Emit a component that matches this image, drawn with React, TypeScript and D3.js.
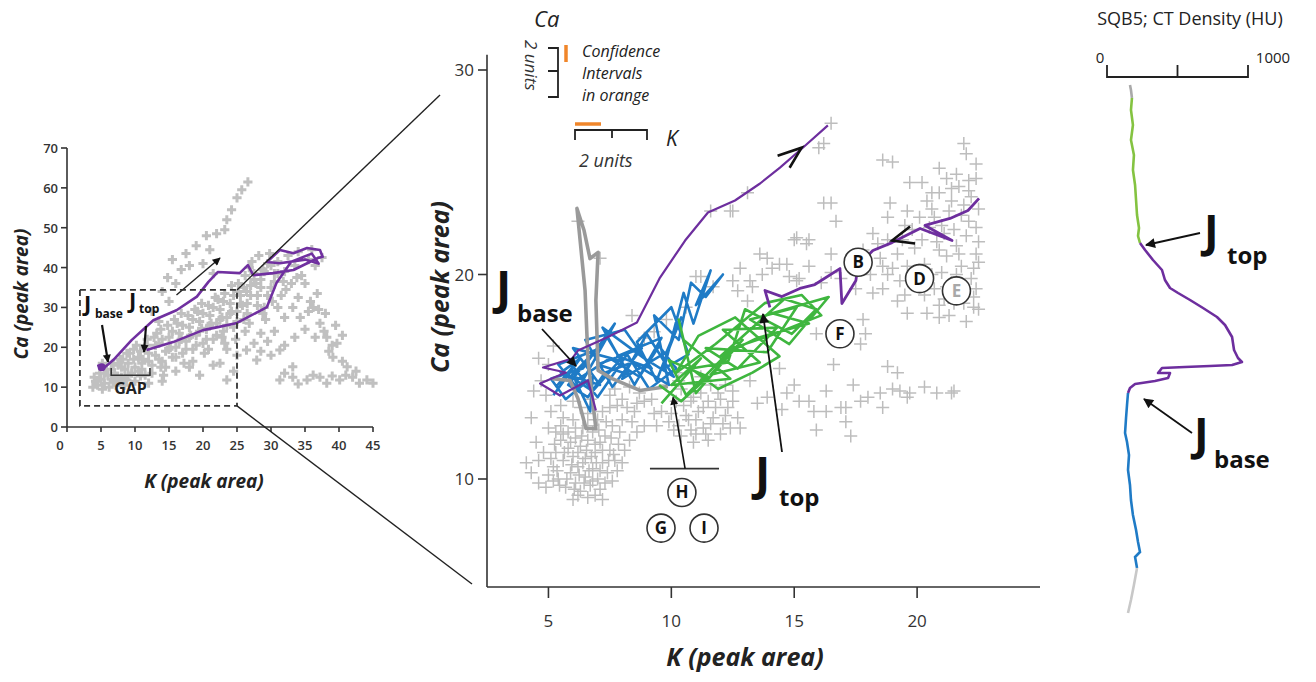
import React from 'react';
import * as d3 from 'd3';

const W = 1316, H = 682;
type P = [number, number];

// ---------- LEFT PANEL (K vs Ca, full range) ----------
const leftXTicks = [0, 5, 10, 15, 20, 25, 30, 35, 40, 45];
const leftYTicks = [0, 10, 20, 30, 40, 50, 60, 70];
const leftGray: P[] = [
  [3.8,10.0],[4.2,11.5],[4.5,10.5],[5.0,12.0],[5.5,11.0],[6.0,13.0],[4.8,13.5],[6.2,10.0],[5.8,14.5],[6.8,11.5],[5.2,9.5],[6.5,12.0],[7.8,11.5],
  [7.0,13.5],[7.5,15.5],[8.0,12.5],[8.5,14.5],[8.2,17.0],[9.0,16.0],[9.5,13.5],[7.2,10.5],[9.2,18.5],[8.8,11.8],[7.4,12.8],
  [10.0,15.0],[10.5,17.5],[11.0,14.5],[11.5,19.5],[12.0,16.5],[10.2,20.5],[12.5,13.5],[11.8,22.0],[10.8,12.8],[11.2,17.0],
  [13.0,18.0],[13.5,21.0],[14.0,16.5],[14.5,19.0],[15.0,22.5],[13.2,23.5],[15.5,17.5],[14.2,13.0],[13.8,15.0],[15.2,20.0],
  [16.0,20.0],[16.5,23.5],[17.0,18.5],[17.5,21.5],[18.0,25.0],[16.2,26.0],[18.5,19.5],[17.2,16.0],[16.8,22.0],[18.2,23.0],
  [19.0,23.0],[19.5,26.5],[20.0,21.0],[20.5,24.5],[21.0,28.0],[19.2,29.0],[21.5,22.0],[20.2,18.5],[19.8,24.8],[21.2,26.0],
  [22.0,26.0],[22.5,29.5],[23.0,24.0],[23.5,27.5],[24.0,31.0],[22.2,32.0],[24.5,25.0],[23.2,21.0],[22.8,27.5],[24.2,29.0],
  [25.0,29.0],[25.5,33.0],[26.0,27.0],[26.5,31.0],[27.0,35.5],[25.2,36.0],[27.5,38.5],[26.2,24.0],[26.8,40.0],[25.8,30.5],[26.4,34.0],
  [28.0,33.0],[28.5,37.0],[29.0,30.0],[29.5,41.0],[28.2,43.0],[30.0,35.0],[30.5,38.5],[29.2,27.0],[27.8,36.0],[28.8,39.5],
  [31.0,41.5],[31.5,33.0],[32.0,39.0],[32.5,43.0],[33.0,36.0],[33.5,40.5],[34.0,44.0],[34.5,38.0],
  [35.5,42.0],[36.5,40.5],[36.0,44.5],[37.5,42.5],[35.0,36.0],
  [14.0,34.0],[15.0,31.5],[16.0,36.0],[14.8,37.5],[16.8,39.5],[15.5,42.0],[17.5,43.5],[19.0,45.5],[21.0,44.5],[20.5,48.0],
  [22.0,48.5],[23.2,49.5],[23.5,52.0],[24.2,54.5],[25.0,57.5],[25.7,59.5],[26.6,61.5],[18.0,40.5],[20.0,41.0],[21.5,38.5],[12.5,29.0],[13.5,26.5],
  [27.5,21.0],[28.5,23.5],[29.5,21.5],[30.5,24.0],[31.0,30.0],[32.0,27.5],[33.2,30.0],[34.3,27.5],[35.5,29.0],[36.2,30.0],
  [37.2,26.0],[37.8,24.0],[38.2,22.5],[39.0,20.5],[39.7,21.0],[39.1,17.5],[38.5,19.0],[36.5,22.5],[35.0,24.5],[33.5,22.5],
  [32.0,20.5],[31.3,19.3],[30.0,18.0],[28.5,19.0],[27.9,16.8],[26.4,19.3],[25.0,18.0],[23.5,19.5],[22.5,16.0],[23.5,11.8],
  [38.0,28.5],[39.5,25.5],[40.5,23.0],[37.0,29.5],[35.8,31.5],[34.0,32.5],[36.8,33.5],
  [31.3,11.8],[32.0,13.5],[33.2,12.5],[34.0,10.8],[35.3,11.8],[36.2,13.0],[37.2,12.5],[38.2,11.0],[39.0,12.8],[40.1,11.8],
  [41.0,13.0],[42.0,12.5],[43.0,11.0],[44.1,11.8],[45.0,11.0],[41.2,15.1],[33.2,15.1],[40.5,16.5],[42.5,14.0],
  [19.5,13.0],[21.5,15.5],[24.5,14.0],[18.0,15.0],
  [5.5,13.5],[6.5,14.5],[7.5,12.0],[8.0,15.0],[9.0,13.0],[9.8,17.0],[10.5,14.0],[11.0,16.0],[11.5,13.0],[12.0,18.5],[12.5,15.5],
  [13.0,20.5],[13.5,17.0],[14.0,22.0],[14.5,15.0],[15.0,19.5],[15.5,24.0],[16.0,17.5],[16.5,21.5],[17.0,25.5],[17.5,19.5],
  [18.0,22.5],[18.5,27.0],[19.0,20.5],[19.5,24.0],[20.0,28.5],[20.5,22.0],[21.0,25.5],[21.5,30.0],[22.0,23.0],[22.5,27.0],
  [23.0,31.5],[23.5,25.5],[24.0,28.5],[24.5,33.0],[25.0,26.5],[25.5,31.0],[26.0,35.0],[26.5,28.5],[27.0,33.0],[27.5,37.0],
  [28.0,30.5],[28.5,35.0],[29.0,39.0],[29.5,33.0],[30.0,40.5],[30.5,36.5],[31.0,38.5],[29.8,43.5],[27.2,41.5],[26.2,38.0],
  [25.2,34.0],[24.2,35.5],[23.2,33.5],[21.8,32.5],[20.8,30.5],[19.8,31.0],[18.8,29.5],[17.8,28.0],[16.8,28.5],[15.8,27.0],
  [14.8,25.5],[13.8,24.5],[12.8,22.5],[11.8,20.5],[10.8,19.0],[9.8,19.5],[8.8,18.5],[7.8,17.0],[6.8,16.0],[5.2,16.0],
  [4.0,12.5],[8.5,10.5],[10.0,11.5],[12.0,11.0],[14.0,11.5],[16.0,14.0],[18.5,16.5],[20.8,19.5],[22.8,22.5],[24.8,22.0],
  [26.8,26.0],[28.8,28.5],[30.2,31.5],[32.2,34.5],[33.8,37.5],[31.8,36.5]
];
const leftPurple: P[] = [
  [5.1,15.0],[4.6,15.4],[5.3,14.6],[6.8,16.8],[9.5,21.8],[12.7,26.8],[16.1,29.3],[19.1,32.7],[20.8,36.4],[22.2,38.9],
  [25.4,38.6],[26.6,40.6],[27.4,38.1],[30.3,38.6],[33.3,39.4],[36.9,42.4],[37.6,42.7],[37.2,44.4],[35.3,44.9],[33.3,43.6],
  [31.3,44.4],[29.4,41.4],[31.3,41.1],[35.0,42.0],[37.0,41.0],[36.0,43.5],[33.0,41.5],[30.8,36.1],[29.4,30.1],[25.0,26.1],
  [22.0,25.0],[20.0,24.3],[15.6,21.3],[11.7,19.3]
];
const leftArrow: P[] = [[16.1,33.1],[22.5,42.4]];
const leftBox: P[] = [[1.9,5.3],[25,34.4]];
const gapRange: P = [6.5, 12.2];

// ---------- MIDDLE PANEL (zoom) ----------
const midXTicks = [5, 10, 15, 20];
const midYTicks = [10, 20, 30];
const midGray: P[] = [
  [5.2,10.6],[5.3,11.3],[5.4,10.0],[5.5,11.9],[5.6,10.9],[5.7,9.6],[5.8,11.5],[5.8,12.3],[5.9,10.3],[6.0,11.1],[6.1,9.8],[6.1,12.0],
  [6.2,10.6],[6.3,11.6],[6.3,9.4],[6.4,12.5],[6.5,10.1],[6.5,11.0],[6.6,11.9],[6.7,9.7],[6.8,10.5],[6.8,12.3],[6.9,11.3],[7.0,10.0],
  [7.1,11.8],[7.1,9.5],[7.2,10.8],[7.3,12.1],[7.4,10.3],[7.5,11.4],[7.6,9.9],[7.7,10.9],[7.6,12.6],[5.5,12.6],[6.0,12.9],[6.9,12.9],
  [6.2,9.2],[6.9,9.2],
  [5.0,10.2],[5.1,11.0],[5.25,11.7],[5.35,10.4],[5.45,9.7],[5.6,12.2],[5.65,11.3],[5.75,10.0],[5.9,11.8],[5.95,10.7],[6.05,9.5],
  [6.1,12.5],[6.2,11.3],[6.25,10.2],[6.35,12.1],[6.4,10.8],[6.45,9.8],[6.55,11.4],[6.6,12.6],[6.65,10.4],[6.75,11.1],[6.8,9.9],
  [6.9,11.7],[6.95,10.8],[7.05,12.4],[7.1,10.4],[7.2,11.4],[7.3,9.8],[7.35,12.8],[7.45,10.9],[7.55,12.0],[7.65,11.2],[7.8,10.4],
  [7.85,11.7],[5.3,12.3],[5.2,9.9],[6.0,9.0],[6.6,9.1],[7.2,9.0],[4.6,10.9],[4.5,11.8],[4.9,9.6],[8.0,10.8],[8.3,11.9],[8.6,12.3],
  [4.3,10.3],[4.6,9.8],[4.1,10.8],[5.0,12.5],[4.8,11.3],[5.1,13.3],[7.9,12.3],[8.1,11.4],[8.4,12.8],[8.2,13.5],[7.8,13.6],[8.9,12.6],
  [8.6,13.7],[5.5,13.6],[6.3,13.5],[7.2,13.3],[6.7,13.9],
  [5.6,13.0],[6.0,13.8],[6.6,13.2],[7.0,12.9],[7.5,13.5],[8.0,12.9],[8.5,13.3],[8.9,13.8],[9.3,13.2],[7.7,14.4],[8.3,14.5],
  [9.4,12.6],[4.4,14.3],[4.3,13.0],[4.9,14.1],
  [4.7,14.8],[5.0,15.6],[7.5,14.1],[8.0,13.9],[8.7,14.2],[9.2,13.9],[9.6,13.3],[5.2,16.5],[4.6,15.9],
  [10.0,13.2],[10.3,12.6],[10.5,13.6],[10.7,12.9],[10.9,14.0],[11.1,13.3],[11.3,12.5],[11.5,13.8],[11.7,13.0],[11.9,14.2],
  [12.1,12.7],[12.3,13.5],[10.4,14.4],[11.0,12.2],[11.6,14.6],[12.5,14.3],[9.8,14.6],[12.7,13.0],[10.2,15.2],[11.2,15.0],
  [10.1,12.4],[10.2,13.8],[10.4,12.1],[10.6,13.1],[10.8,12.4],[10.8,13.8],[11.0,12.9],[11.2,14.2],[11.3,13.5],[11.4,12.2],
  [11.6,12.7],[11.8,13.5],[12.0,12.2],[12.0,13.9],[12.2,13.1],[12.4,12.5],[12.5,13.8],[10.9,11.8],[11.5,11.9],[9.9,12.8],
  [10.3,14.8],[12.2,14.6],
  [12.8,12.5],[13.5,13.7],[13.2,14.8],
  [13.9,14.0],[14.5,13.4],[15.0,14.6],[15.6,13.8],[16.3,14.3],[16.9,13.5],[17.4,14.6],[18.0,14.0],[18.6,13.5],[19.0,14.4],
  [19.6,14.0],[20.3,14.5],[21.4,14.2],[17.1,12.8],[15.9,12.4],[14.4,15.4],[16.6,15.6],[19.2,15.2],[17.3,12.1],
  [21.9,26.4],[22.4,25.4],[20.9,25.2],[18.6,25.6],[19.0,25.5],[19.7,24.5],[20.2,24.5],[20.6,24.0],[21.2,24.7],[21.7,24.3],
  [22.1,24.1],[16.2,23.5],[16.7,22.6],[18.9,23.5],[19.6,23.1],[18.2,22.0],[18.8,21.7],[15.1,21.8],[15.6,21.7],[16.5,21.0],
  [18.5,20.8],[18.8,20.0],[19.3,19.7],[19.2,18.7],[19.6,18.1],[20.4,18.1],[20.9,17.9],[22.3,18.4],[18.2,19.1],[17.8,17.8],
  [17.7,16.6],[17.9,17.1],[15.9,17.1],[13.6,21.0],[14.1,20.3],[14.7,20.5],[13.3,19.4],[18.8,15.5],[18.5,14.2],[19.3,14.3],
  [19.7,14.2],[20.8,14.2],[21.5,14.3],[14.7,14.2],[15.2,13.8],[15.8,13.3],[16.3,13.3],[17.1,13.5],[17.7,13.8],
  [20.6,23.2],[21.0,22.4],[21.4,23.6],[21.8,22.9],[22.2,23.8],[22.4,22.3],[20.8,21.6],[21.2,20.9],[21.6,21.4],[22.0,21.9],
  [22.4,21.0],[21.0,20.1],[21.4,19.6],[21.8,20.4],[22.2,19.8],[22.5,20.6],[20.7,19.3],[21.1,18.8],[21.5,18.6],[21.9,19.1],
  [22.3,18.9],[20.3,20.5],[20.5,22.3],[19.9,21.3],[20.1,22.8],[19.6,20.4],[20.0,19.6],[19.2,21.0],[19.5,22.4],[18.8,22.8],
  [18.4,21.5],[17.8,21.2],[17.3,20.7],[16.9,19.8],[17.5,19.3],[18.1,20.0],[18.6,20.4],[16.5,20.1],[16.1,19.6],[15.6,20.4],
  [15.2,19.8],[22.4,24.7],[21.6,24.9],[22.0,25.9],[20.9,24.0],
  [20.4,23.6],[20.7,22.8],[20.9,21.2],[21.1,22.0],[21.3,23.1],[21.5,22.2],[21.7,21.0],[21.9,23.4],[22.1,22.6],[22.3,20.3],
  [22.5,21.6],[22.5,23.2],[21.2,19.4],[21.6,20.0],[21.9,18.6],[22.4,19.3],[20.6,20.0],[20.9,18.5],[22.1,24.6],[21.4,24.2],
  [20.2,21.7],[19.8,22.2],[19.4,21.7],[19.9,20.0],[20.3,19.0],[19.0,20.3],[18.6,19.3],[19.5,19.0],[22.5,18.3],[22.0,17.7],[21.3,18.0],
  [12.8,20.3],[11.0,19.9],[11.7,19.4],[12.5,19.7],[10.6,18.4],[9.8,17.8],[13.1,18.7],[15.0,21.7],[15.1,19.7],
  [16.2,26.4],[16.5,23.5],[12.5,23.1],[11.6,23.1],[13.1,24.0],[15.5,21.5],[13.9,20.8],[14.4,20.5],[13.7,20.0],[14.8,19.9],
  [13.2,19.7],[12.7,19.2],[11.2,19.9],
  [6.2,22.6],[7.1,20.8],[12.4,23.1],[16.0,26.2],[16.5,27.4],[8.9,16.9],[8.4,18.0],[9.3,17.2]
];
const midBlue: P[] = [
  [5.2,14.1],[6.3,15.9],[5.5,15.2],[7.1,14.6],[6.0,16.4],[7.9,15.8],[6.8,14.3],[5.9,15.0],[7.4,16.9],[8.3,15.1],[7.0,15.6],
  [8.8,16.4],[7.6,14.5],[6.5,16.8],[8.1,17.3],[9.2,15.4],[7.8,16.0],[9.6,16.9],[8.5,14.6],[7.2,17.4],[8.9,15.9],[10.1,15.0],
  [9.0,17.1],[8.0,14.9],[9.8,16.2],[10.4,17.9],[9.4,14.8],[8.6,16.7],[10.0,18.4],[10.7,16.1],[9.7,15.4],[10.5,19.1],[10.9,17.6],
  [11.6,20.2],[11.0,18.5],[12.1,20.0],[11.4,18.9],[10.8,19.6],[10.3,16.8],[9.3,18.0],[9.9,14.6],[8.4,15.7],[7.3,15.2],[6.6,14.0],
  [5.8,14.6],[6.9,16.3],[5.4,15.6],[6.2,14.4],[7.7,17.6],[6.4,15.4],[5.1,14.9],[5.7,13.9],[6.8,15.0],[6.7,13.3],[6.1,14.8],
  [7.5,15.9],[8.7,15.0],[9.5,16.5],[10.2,15.4],[9.1,14.4],[8.2,16.1],[7.0,14.0],[6.0,15.5],[5.3,14.5]
];
const midGreen: P[] = [
  [9.6,13.7],[11.2,15.9],[10.0,14.6],[12.4,14.9],[10.5,16.8],[10.3,17.8],[11.0,14.2],[12.9,16.8],[11.6,15.1],[13.6,15.7],
  [12.1,17.3],[14.3,17.4],[12.7,15.4],[11.4,16.4],[13.9,16.2],[15.1,18.4],[13.2,17.8],[14.8,16.6],[16.4,18.9],[14.1,18.1],
  [15.6,17.6],[13.5,16.9],[12.0,16.0],[14.6,18.8],[15.9,18.3],[14.9,17.1],[13.0,18.3],[12.3,15.7],[10.8,15.4],[11.9,14.4],
  [13.3,15.2],[14.4,16.0],[12.6,17.9],[11.1,17.0],[10.2,15.2],[11.8,16.6],[13.8,18.6],[15.3,19.0],[16.1,18.0],[14.0,17.0],
  [12.5,16.4],[10.6,14.1],[9.9,15.8],[11.5,15.0],[10.4,13.8],[9.5,14.6]
];
const midGrayPath: P[] = [
  [9.86,14.52],[8.72,14.33],[7.59,14.91],[7.02,15.31],[6.93,18.73],[7.02,21.08],[6.69,20.78],[6.45,22.15],[6.16,23.23],
  [6.49,19.22],[6.61,15.79],[6.93,12.47],[6.53,12.47],[6.20,13.94],[5.88,14.82],[5.14,14.91]
];
const midPurpleUpper: P[] = [
  [6.93,13.35],[6.61,14.82],[5.47,14.08],[4.66,14.67],[5.71,15.21],[4.78,15.45],[5.96,15.89],[6.20,16.28],[7.38,16.92],
  [8.60,17.65],[9.54,19.85],[10.56,21.66],[11.49,23.03],[12.59,23.62],[13.61,24.45],[14.42,25.23],[15.36,26.21],[16.37,27.29]
];
const midPurpleLower: P[] = [
  [14.01,18.39],[13.81,19.22],[14.50,18.92],[15.23,19.32],[15.84,19.51],[16.86,20.29],[16.94,18.58],[17.51,19.71],[17.59,20.44],
  [18.20,21.17],[18.98,21.56],[20.12,22.25],[21.42,21.66],[20.32,22.40],[21.34,22.74],[22.07,23.13],[22.52,23.72]
];
const sampleLabels = ['B', 'D', 'E', 'F', 'H', 'G', 'I'];
const sampleK = [17.6, 20.1, 21.6, 16.86, 10.43, 9.58, 11.33];
const sampleCa = [20.6, 19.8, 19.2, 17.1, 9.34, 7.6, 7.6];
const hBracket: P[] = [[9.13, 10.51], [11.94, 10.51]];
const hArrow: P[] = [[10.56, 10.51], [10.07, 13.99]];
const legendLines = ['Confidence', 'Intervals', 'in orange'];

// ---------- RIGHT PANEL (CT density profile) ----------
const ctTicks = [0, 500, 1000];
const ctGrayTop: P[] = [[163,0],[170,0.5],[177,1.3]];
const ctGreen: P[] = [[177,1.3],[170,2.5],[184,4],[170,5.5],[191,7],[184,8.5],[199,10],[206,11.5],[213,13],[227,14.3],[220,15.1],[234,15.8]];
const ctPurple: P[] = [[234,15.8],[270,16.5],[326,17.5],[390,18.5],[411,19.5],[447,20.3],[504,20.8],[589,21.5],[681,22.3],[780,23.2],
  [837,24],[887,25.2],[901,26.5],[929,27.3],[957,27.7],[887,28],[730,28.1],[553,28.2],[390,28.3],[362,28.8],[447,28.8],[433,29.3],
  [340,29.6],[199,29.9],[163,30.3],[149,30.8]];
const ctBlue: P[] = [[149,30.8],[142,32],[135,33.3],[128,34.8],[142,35.7],[156,37],[149,38.5],[163,40],[170,41.5],[184,43],
  [206,44.5],[220,45.7],[234,46.7],[199,47.2],[213,48.3]];
const ctGrayBottom: P[] = [[213,48.3],[191,50],[170,51.5],[149,52.8]];

const FONT = "'Open Sans', 'DejaVu Sans', sans-serif";

function crosses(pts: P[], fx: (v: number) => number, fy: (v: number) => number, s: number) {
  return pts.map(([a, b]) => {
    const x = fx(a), y = fy(b);
    return `M${x - s},${y}h${2 * s}M${x},${y - s}v${2 * s}`;
  }).join('');
}

export default function App() {
  const xL = d3.scaleLinear().domain([0, 45]).range([67, 373]);
  const yL = d3.scaleLinear().domain([0, 70]).range([427, 148]);
  const xM = d3.scaleLinear().domain([2.5, 25]).range([487, 1040]);
  const yM = d3.scaleLinear().domain([10, 30]).range([479, 70]);
  const xR = d3.scaleLinear().domain([0, 1000]).range([1107, 1248]);
  const yR = d3.scaleLinear().domain([0, 53]).range([85, 615]);

  const lineL = d3.line<P>().x(d => xL(d[0])).y(d => yL(d[1]));
  const lineM = d3.line<P>().x(d => xM(d[0])).y(d => yM(d[1]));
  const lineR = d3.line<P>().x(d => xR(d[0])).y(d => yR(d[1]));

  const midTop = yM(30.75), midBottom = yM(4.72);

  const chev1 = [xM(15.3), yM(26.2)];
  const chev2 = [xM(18.98), yM(21.66)];

  return (
    <svg width={W} height={H} style={{ position: 'absolute', left: 0, top: 0, background: '#fff' }} fontFamily={FONT}>
      <defs>
        <marker id="ah" viewBox="0 0 10 10" refX="9" refY="5" markerWidth="13" markerHeight="10" markerUnits="userSpaceOnUse" orient="auto">
          <path d="M0,0 L10,5 L0,10 z" fill="#111" />
        </marker>
        <marker id="ahs" viewBox="0 0 10 10" refX="9" refY="5" markerWidth="10" markerHeight="8" markerUnits="userSpaceOnUse" orient="auto">
          <path d="M0,0 L10,5 L0,10 z" fill="#111" />
        </marker>
      </defs>

      {/* ================= LEFT PANEL ================= */}
      <path d={crosses(leftGray, xL, yL, 4.6)} stroke="#c0c0c0" strokeWidth={3} fill="none" />
      <path d={lineL(leftPurple) || ''} stroke="#7030a0" strokeWidth={2.6} fill="none" strokeLinejoin="round" />
      <circle cx={xL(5.1)} cy={yL(15)} r={4} fill="#7030a0" />
      <line x1={xL(leftArrow[0][0])} y1={yL(leftArrow[0][1])} x2={xL(leftArrow[1][0])} y2={yL(leftArrow[1][1])} stroke="#222" strokeWidth={1.4} markerEnd="url(#ahs)" />
      <rect x={xL(leftBox[0][0])} y={yL(leftBox[1][1])} width={xL(leftBox[1][0]) - xL(leftBox[0][0])} height={yL(leftBox[0][1]) - yL(leftBox[1][1])}
        fill="none" stroke="#333" strokeWidth={1.8} strokeDasharray="6,4" />
      {/* axes */}
      <line x1={xL(0)} y1={yL(0)} x2={xL(45)} y2={yL(0)} stroke="#333" strokeWidth={1.6} />
      <line x1={xL(0)} y1={yL(0)} x2={xL(0)} y2={yL(70)} stroke="#333" strokeWidth={1.6} />
      {leftXTicks.map(t => (
        <g key={'lx' + t}>
          <line x1={xL(t)} x2={xL(t)} y1={yL(0)} y2={yL(0) + 5} stroke="#333" strokeWidth={1.6} />
          <text x={xL(t) - (t === 0 ? 7 : 0)} y={450} fontSize={13} fontWeight={600} fill="#333" textAnchor="middle">{t}</text>
        </g>
      ))}
      {leftYTicks.map(t => (
        <g key={'ly' + t}>
          <line x1={xL(0) - 6} x2={xL(0)} y1={yL(t)} y2={yL(t)} stroke="#333" strokeWidth={1.6} />
          <text x={xL(0) - 9} y={yL(t) + 5} fontSize={13} fontWeight={600} fill="#333" textAnchor="end">{t}</text>
        </g>
      ))}
      <text x={204} y={488} fontSize={19} fontWeight={700} fontStyle="italic" textAnchor="middle" fill="#222">K (peak area)</text>
      <text transform="translate(28,294) rotate(-90)" fontSize={19} fontWeight={700} fontStyle="italic" textAnchor="middle" fill="#222">Ca (peak area)</text>
      {/* GAP bracket */}
      <path d={`M${xL(gapRange[0])},${yL(14.8)}V${yL(13)}H${xL(gapRange[1])}V${yL(14.8)}`} stroke="#333" strokeWidth={1.6} fill="none" />
      <text x={(xL(gapRange[0]) + xL(gapRange[1])) / 2} y={394} fontSize={16} fontWeight={700} textAnchor="middle" fill="#222">GAP</text>
      {/* J labels left */}
      <text x={84} y={311} fontSize={22} fontWeight={700} fill="#111">J</text>
      <text x={95} y={318} fontSize={12} fontWeight={700} fill="#111">base</text>
      <line x1={102} y1={325} x2={108} y2={362} stroke="#111" strokeWidth={2.2} markerEnd="url(#ahs)" />
      <text x={129} y={308} fontSize={22} fontWeight={700} fill="#111">J</text>
      <text x={139} y={313} fontSize={12} fontWeight={700} fill="#111">top</text>
      <line x1={146} y1={326} x2={144} y2={352} stroke="#111" strokeWidth={2.2} markerEnd="url(#ahs)" />

      {/* zoom connector lines */}
      <line x1={xL(25)} y1={yL(34.4)} x2={440} y2={95} stroke="#222" strokeWidth={1.4} />
      <line x1={xL(25)} y1={yL(5.3)} x2={472} y2={584} stroke="#222" strokeWidth={1.4} />

      {/* ================= MIDDLE PANEL ================= */}
      <path d={crosses(midGray, xM, yM, 6.5)} stroke="#bdbdbd" strokeWidth={1.5} fill="none" />
      <path d={lineM(midBlue) || ''} stroke="#1f7bc6" strokeWidth={2.6} fill="none" strokeLinejoin="round" />
      <path d={lineM(midGrayPath) || ''} stroke="#9a9a9a" strokeWidth={3.6} fill="none" strokeLinejoin="round" />
      <path d={lineM(midGreen) || ''} stroke="#3fb63f" strokeWidth={2.6} fill="none" strokeLinejoin="round" />
      <path d={lineM(midPurpleUpper) || ''} stroke="#6d2e9e" strokeWidth={2.2} fill="none" strokeLinejoin="round" />
      <path d={lineM(midPurpleLower) || ''} stroke="#6d2e9e" strokeWidth={2.8} fill="none" strokeLinejoin="round" />
      <path d={`M${chev1[0] - 24},${chev1[1] + 8}L${chev1[0]},${chev1[1]}L${chev1[0] - 12},${chev1[1] + 20}`} stroke="#111" strokeWidth={2.6} fill="none" />
      <path d={`M${chev2[0] + 18},${chev2[1] - 14}L${chev2[0]},${chev2[1]}L${chev2[0] + 23},${chev2[1] + 3}`} stroke="#111" strokeWidth={2.6} fill="none" />

      {/* axes */}
      <line x1={xM(2.5)} y1={midBottom} x2={xM(25)} y2={midBottom} stroke="#333" strokeWidth={1.6} />
      <line x1={xM(2.5)} y1={midBottom} x2={xM(2.5)} y2={midTop} stroke="#333" strokeWidth={1.6} />
      {midXTicks.map(t => (
        <g key={'mx' + t}>
          <line x1={xM(t)} x2={xM(t)} y1={midBottom} y2={midBottom + 11} stroke="#333" strokeWidth={1.6} />
          <text x={xM(t)} y={627} fontSize={17} fill="#333" textAnchor="middle">{t}</text>
        </g>
      ))}
      {midYTicks.map(t => (
        <g key={'my' + t}>
          <line x1={xM(2.5) - 9} x2={xM(2.5)} y1={yM(t)} y2={yM(t)} stroke="#333" strokeWidth={1.6} />
          <text x={xM(2.5) - 13} y={yM(t) + 6} fontSize={17} fill="#333" textAnchor="end">{t}</text>
        </g>
      ))}
      <text x={745} y={666} fontSize={25} fontWeight={700} fontStyle="italic" textAnchor="middle" fill="#222">K (peak area)</text>
      <text transform="translate(449,287) rotate(-90)" fontSize={25} fontWeight={700} fontStyle="italic" textAnchor="middle" fill="#222">Ca (peak area)</text>

      {/* sample circles */}
      {sampleLabels.map((s, i) => (
        <g key={s}>
          <circle cx={xM(sampleK[i])} cy={yM(sampleCa[i])} r={14} fill="#fff" stroke="#333" strokeWidth={1.6} />
          <text x={xM(sampleK[i])} y={yM(sampleCa[i]) + 6} fontSize={17} fontWeight={700} textAnchor="middle" fill={s === 'E' ? '#a8a8a8' : '#111'}>{s}</text>
        </g>
      ))}
      {/* H/G/I bracket and arrow */}
      <line x1={xM(hBracket[0][0])} x2={xM(hBracket[1][0])} y1={yM(hBracket[0][1])} y2={yM(hBracket[1][1])} stroke="#333" strokeWidth={1.8} />
      <line x1={xM(hArrow[0][0])} y1={yM(hArrow[0][1])} x2={xM(hArrow[1][0])} y2={yM(hArrow[1][1])} stroke="#111" strokeWidth={1.6} markerEnd="url(#ahs)" />

      {/* J base / J top labels */}
      <text x={496} y={304} fontSize={46} fontWeight={700} fill="#111">J</text>
      <text x={517} y={322} fontSize={24} fontWeight={700} fill="#111">base</text>
      <line x1={542} y1={329} x2={576} y2={366} stroke="#111" strokeWidth={1.8} markerEnd="url(#ah)" />
      <text x={755} y={490} fontSize={46} fontWeight={700} fill="#111">J</text>
      <text x={779} y={506} fontSize={24} fontWeight={700} fill="#111">top</text>
      <line x1={782} y1={452} x2={763} y2={314} stroke="#111" strokeWidth={1.8} markerEnd="url(#ah)" />

      {/* confidence interval legend */}
      <text x={534} y={27} fontSize={22} fontStyle="italic" fill="#222">Ca</text>
      <text transform="translate(525,40) rotate(90)" fontSize={17} fontStyle="italic" fill="#333">2 units</text>
      <path d="M548,48H558V97H548M548,71H558" stroke="#222" strokeWidth={1.8} fill="none" />
      <line x1={566} x2={566} y1={45} y2={62} stroke="#f0862a" strokeWidth={3.5} />
      {legendLines.map((l, i) => (
        <text key={l} x={582} y={57 + i * 22} fontSize={16} fontStyle="italic" fill="#222">{l}</text>
      ))}
      <path d="M575,140V130H647V140M612,130V138" stroke="#222" strokeWidth={1.8} fill="none" />
      <line x1={575} x2={601} y1={124} y2={124} stroke="#f0862a" strokeWidth={3.5} />
      <text x={666} y={146} fontSize={21} fontStyle="italic" fill="#222">K</text>
      <text x={579} y={167} fontSize={18} fontStyle="italic" fill="#333">2 units</text>

      {/* ================= RIGHT PANEL ================= */}
      <text x={1190} y={25} fontSize={18} textAnchor="middle" fill="#222">SQB5; CT Density (HU)</text>
      <path d={`M${xR(0)},65V77H${xR(1000)}V65M${xR(500)},77V65`} stroke="#222" strokeWidth={1.8} fill="none" />
      {ctTicks.filter(t => t !== 500).map(t => (
        <text key={'ct' + t} x={t === 0 ? xR(t) - 7 : xR(t) + 25} y={63} fontSize={15} textAnchor="middle" fill="#222">{t}</text>
      ))}
      <path d={lineR(ctGrayTop) || ''} stroke="#a9a9a9" strokeWidth={2.6} fill="none" />
      <path d={lineR(ctGreen) || ''} stroke="#84c341" strokeWidth={2.6} fill="none" />
      <path d={lineR(ctPurple) || ''} stroke="#6d2e9e" strokeWidth={2.6} fill="none" strokeLinejoin="round" />
      <path d={lineR(ctBlue) || ''} stroke="#1f7bc6" strokeWidth={2.6} fill="none" />
      <path d={lineR(ctGrayBottom) || ''} stroke="#c8c8c8" strokeWidth={2.6} fill="none" />
      <text x={1204} y={247} fontSize={44} fontWeight={700} fill="#111">J</text>
      <text x={1227} y={264} fontSize={24} fontWeight={700} fill="#111">top</text>
      <line x1={1200} y1={233} x2={1146} y2={245} stroke="#111" strokeWidth={1.8} markerEnd="url(#ah)" />
      <text x={1194} y={450} fontSize={44} fontWeight={700} fill="#111">J</text>
      <text x={1214} y={468} fontSize={24} fontWeight={700} fill="#111">base</text>
      <line x1={1192} y1={433} x2={1144} y2={399} stroke="#111" strokeWidth={1.8} markerEnd="url(#ah)" />
    </svg>
  );
}
